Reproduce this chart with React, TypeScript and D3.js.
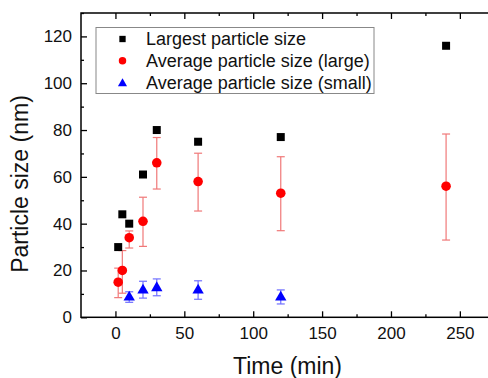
import { useEffect, useRef } from 'react';
import * as d3 from 'd3';

// times (min) and measured sizes (nm)
const largestTime = [2, 5, 10, 20, 30, 60, 120, 240];
const largestSize = [30, 44, 40, 61, 80, 75, 77, 116];

const avgLargeTime = [2, 5, 10, 20, 30, 60, 120, 240];
const avgLargeSize = [15, 20, 34, 41, 66, 58, 53, 56];
const avgLargeLow = [8.4, 10.3, 29.6, 30.3, 54.8, 45.4, 37, 33];
const avgLargeHigh = [21, 28.5, 36.9, 51.3, 76.8, 70.1, 68.6, 78.3];

const avgSmallTime = [10, 20, 30, 60, 120];
const avgSmallSize = [9, 12, 13, 12, 9];
const avgSmallLow = [6.4, 8.2, 9.2, 7.7, 5.7];
const avgSmallHigh = [10.9, 15.4, 16.4, 15.6, 11.7];

const xMajorTicks = [0, 50, 100, 150, 200, 250];
const xMinorTicks = [25, 75, 125, 175, 225, 275];
const yMajorTicks = [0, 20, 40, 60, 80, 100, 120];
const yMinorTicks = [10, 30, 50, 70, 90, 110, 130];

const legendLabels = [
  'Largest particle size',
  'Average particle size (large)',
  'Average particle size (small)',
];

export default function App() {
  const svgRef = useRef<SVGSVGElement>(null);

  useEffect(() => {
    if (!svgRef.current) return;
    const svg = d3.select(svgRef.current);
    svg.selectAll('*').remove();

    const font = 'Liberation Sans, Arial, sans-serif';
    const left = 81;
    const top = 13;
    const bottom = 317.3;
    const right = 494.3;

    const x = d3.scaleLinear().domain([-25, 275]).range([left, right]);
    const y = d3.scaleLinear().domain([0, 130]).range([bottom, top]);

    const styleAxis = (g: d3.Selection<SVGGElement, unknown, null, undefined>) => {
      g.select('.domain').remove();
      g.selectAll('line').attr('stroke', '#000').attr('stroke-width', 1.3);
      g.selectAll('text')
        .style('font-family', font)
        .style('font-size', '17px')
        .attr('fill', '#111');
    };

    // bottom axis
    svg.append('g')
      .attr('transform', `translate(0,${bottom})`)
      .call(d3.axisBottom(x).tickValues(xMajorTicks).tickSizeInner(-6).tickSizeOuter(0).tickPadding(10).tickFormat(d3.format('d')))
      .call(styleAxis);
    svg.append('g')
      .attr('transform', `translate(0,${bottom})`)
      .call(d3.axisBottom(x).tickValues(xMinorTicks).tickSizeInner(-3).tickSizeOuter(0).tickFormat(() => ''))
      .call(styleAxis);
    // top axis (mirror)
    svg.append('g')
      .attr('transform', `translate(0,${top})`)
      .call(d3.axisTop(x).tickValues(xMajorTicks).tickSizeInner(-6).tickSizeOuter(0).tickFormat(() => ''))
      .call(styleAxis);
    svg.append('g')
      .attr('transform', `translate(0,${top})`)
      .call(d3.axisTop(x).tickValues(xMinorTicks).tickSizeInner(-3).tickSizeOuter(0).tickFormat(() => ''))
      .call(styleAxis);
    // left axis
    svg.append('g')
      .attr('transform', `translate(${left},0)`)
      .call(d3.axisLeft(y).tickValues(yMajorTicks).tickSizeInner(-6).tickSizeOuter(0).tickPadding(9).tickFormat(d3.format('d')))
      .call(styleAxis);
    svg.append('g')
      .attr('transform', `translate(${left},0)`)
      .call(d3.axisLeft(y).tickValues(yMinorTicks).tickSizeInner(-3).tickSizeOuter(0).tickFormat(() => ''))
      .call(styleAxis);

    // frame
    svg.append('rect')
      .attr('x', left)
      .attr('y', top)
      .attr('width', right - left)
      .attr('height', bottom - top)
      .attr('fill', 'none')
      .attr('stroke', '#000')
      .attr('stroke-width', 1.5);

    // error bars
    const drawErrors = (
      times: number[], low: number[], high: number[], color: string,
    ) => {
      const g = svg.append('g').attr('stroke', color).attr('stroke-width', 1.2);
      times.forEach((t, i) => {
        const cx = x(t);
        g.append('line').attr('x1', cx).attr('x2', cx).attr('y1', y(low[i])).attr('y2', y(high[i]));
        g.append('line').attr('x1', cx - 4).attr('x2', cx + 4).attr('y1', y(low[i])).attr('y2', y(low[i]));
        g.append('line').attr('x1', cx - 4).attr('x2', cx + 4).attr('y1', y(high[i])).attr('y2', y(high[i]));
      });
    };
    drawErrors(avgLargeTime, avgLargeLow, avgLargeHigh, '#f07878');
    drawErrors(avgSmallTime, avgSmallLow, avgSmallHigh, '#7070ff');

    const square = d3.symbol(d3.symbolSquare, 64);
    const circle = d3.symbol(d3.symbolCircle, 72);
    const triangle = d3.symbol(d3.symbolTriangle, 56);

    svg.append('g')
      .selectAll('path')
      .data(largestTime)
      .join('path')
      .attr('d', square)
      .attr('transform', (d, i) => `translate(${x(d)},${y(largestSize[i])})`)
      .attr('fill', '#000');

    svg.append('g')
      .selectAll('path')
      .data(avgLargeTime)
      .join('path')
      .attr('d', circle)
      .attr('transform', (d, i) => `translate(${x(d)},${y(avgLargeSize[i])})`)
      .attr('fill', '#ff0000');

    svg.append('g')
      .selectAll('path')
      .data(avgSmallTime)
      .join('path')
      .attr('d', triangle)
      .attr('transform', (d, i) => `translate(${x(d)},${y(avgSmallSize[i]) + 1})`)
      .attr('fill', '#0000ff');

    // legend
    const legend = svg.append('g');
    legend.append('rect')
      .attr('x', 96)
      .attr('y', 27.5)
      .attr('width', 278)
      .attr('height', 66)
      .attr('fill', '#fff')
      .attr('stroke', '#888')
      .attr('stroke-width', 1);
    const legendSymbols = [
      d3.symbol(d3.symbolSquare, 40),
      d3.symbol(d3.symbolCircle, 44),
      d3.symbol(d3.symbolTriangle, 36),
    ];
    const legendColors = ['#000', '#ff0000', '#0000ff'];
    legendLabels.forEach((label, i) => {
      const ly = 39 + i * 21.8;
      legend.append('path')
        .attr('d', legendSymbols[i])
        .attr('transform', `translate(122.5,${ly + (i === 2 ? 1 : 0)})`)
        .attr('fill', legendColors[i]);
      legend.append('text')
        .attr('x', 146)
        .attr('y', ly)
        .attr('dy', '0.36em')
        .style('font-family', font)
        .style('font-size', '18px')
        .attr('fill', '#111')
        .text(label);
    });

    // axis titles
    svg.append('text')
      .attr('x', 287.5)
      .attr('y', 374)
      .attr('text-anchor', 'middle')
      .style('font-family', font)
      .style('font-size', '23px')
      .attr('fill', '#111')
      .text('Time (min)');

    svg.append('text')
      .attr('transform', 'translate(28,184) rotate(-90)')
      .attr('text-anchor', 'middle')
      .style('font-family', font)
      .style('font-size', '23px')
      .attr('fill', '#111')
      .text('Particle size (nm)');
  }, []);

  return (
    <svg
      ref={svgRef}
      width={488}
      height={378}
      style={{ position: 'absolute', left: 0, top: 0, background: '#fff', display: 'block' }}
    />
  );
}
